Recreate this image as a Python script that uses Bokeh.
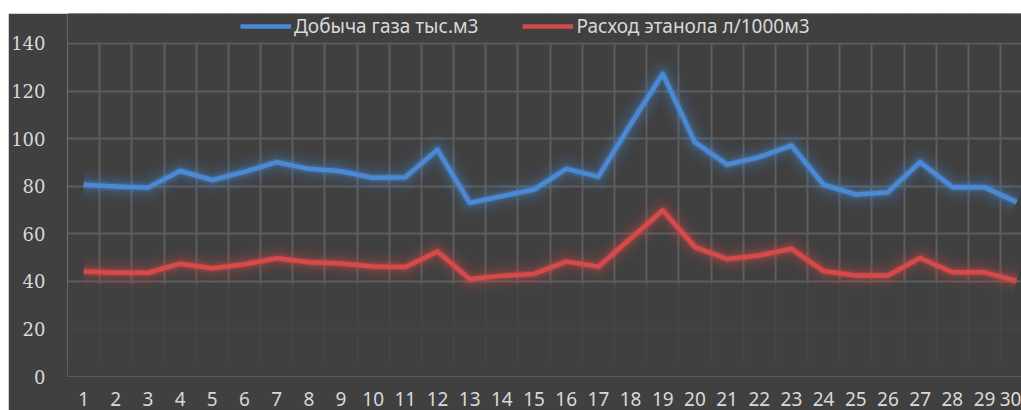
from bokeh.plotting import figure
from bokeh.models import (ColumnDataSource, FixedTicker, Legend, LegendItem,
                          Spacer, Range1d, BoxAnnotation)
from bokeh.layouts import row, column
from bokeh.embed import file_html
from bokeh.resources import INLINE

# Day numbers and the two daily series
days = list(range(1, 31))
gas_output = [80.6, 79.9, 79.4, 86.4, 82.6, 86.0, 90.1, 87.3, 86.3, 83.5,
              83.8, 95.3, 73.0, 75.8, 78.6, 87.3, 84.0, 106.0, 127.2, 98.5,
              89.1, 92.2, 97.1, 80.6, 76.5, 77.5, 90.1, 79.6, 79.6, 73.3]
ethanol_use = [44.1, 43.6, 43.6, 47.4, 45.5, 47.2, 49.7, 48.0, 47.5, 46.2,
               46.0, 52.5, 41.0, 42.3, 43.1, 48.3, 46.2, 58.0, 69.8, 54.4,
               49.4, 50.9, 53.7, 44.3, 42.5, 42.5, 49.8, 43.8, 43.8, 40.2]
y_ticks = [0, 20, 40, 60, 80, 100, 120, 140]
gas_label = "Добыча газа тыс.м3"
ethanol_label = "Расход этанола л/1000м3"

BG = "#404040"
GRID = "#5c5c5c"
TEXT = "#d9d9d9"
BLUE = "#4a8ad4"
RED = "#d64a4a"
Y_TOP = 140          # top of the value scale
Y_HEADROOM = 152.6   # extra room above it for the legend strip

src = ColumnDataSource(dict(day=days, gas=gas_output, eth=ethanol_use))

p = figure(width=1013, height=397, output_backend="svg", toolbar_location=None,
           x_range=Range1d(0.5, 30.15), y_range=Range1d(0, Y_HEADROOM),
           background_fill_color=BG, border_fill_color=BG,
           min_border_left=59, min_border_right=0, min_border_top=0,
           min_border_bottom=34, outline_line_color=None)

# grid: horizontal at value ticks, vertical at category boundaries
p.ygrid.ticker = FixedTicker(ticks=y_ticks)
p.xgrid.ticker = FixedTicker(ticks=[d + 0.5 for d in [0] + days])
for g in (p.xgrid, p.ygrid):
    g.grid_line_color = GRID
    g.grid_line_width = 2

# soft fade of the grid in the lower part of the plot
p.quad(left=0.5, right=30.15, bottom=0, top=39, fill_color=BG,
       fill_alpha=0.8, line_color=None)
p.quad(left=0.5, right=30.15, bottom=0, top=6, fill_color=BG,
       fill_alpha=1.0, line_color=None)

# glowing lines
for w, a in [(30, 0.05), (22, 0.07), (15, 0.1), (10, 0.16), (7, 0.25)]:
    p.line("day", "gas", source=src, line_color=BLUE, line_width=w,
           line_alpha=a, line_join="round")
    p.line("day", "eth", source=src, line_color=RED, line_width=w,
           line_alpha=a, line_join="round")
gas_r = p.line("day", "gas", source=src, line_color=BLUE, line_width=4.5,
               line_join="round")
eth_r = p.line("day", "eth", source=src, line_color=RED, line_width=4.5,
               line_join="round")

# plain strip above the grid that holds the legend
p.add_layout(BoxAnnotation(bottom=Y_TOP + 0.45, fill_color=BG, fill_alpha=1,
                           line_color=None))

# axes
p.xaxis.ticker = FixedTicker(ticks=days)
p.yaxis.ticker = FixedTicker(ticks=y_ticks)
for ax in (p.xaxis[0], p.yaxis[0]):
    ax.axis_line_color = None
    ax.major_tick_line_color = None
    ax.minor_tick_line_color = None
    ax.major_label_text_color = TEXT
p.xaxis.major_label_text_font = "Noto Sans"
p.xaxis.major_label_text_font_size = "19px"
p.xaxis.major_label_standoff = 9
p.yaxis.major_label_text_font = "DejaVu Serif"
p.yaxis.major_label_text_font_size = "18px"
p.yaxis.major_label_standoff = 16

legend = Legend(items=[LegendItem(label=gas_label, renderers=[gas_r]),
                       LegendItem(label=ethanol_label, renderers=[eth_r])],
                orientation="horizontal", location=(173, 337),
                background_fill_alpha=0, border_line_alpha=0,
                label_text_color=TEXT, label_text_font="Noto Sans",
                label_text_font_size="19px", label_height=24,
                glyph_width=51, glyph_height=24,
                label_standoff=3, spacing=44, padding=0, margin=0)
p.add_layout(legend)

layout = row(Spacer(width=8), column(Spacer(height=13), p))
open("out.html", "w").write(file_html(layout, INLINE))
